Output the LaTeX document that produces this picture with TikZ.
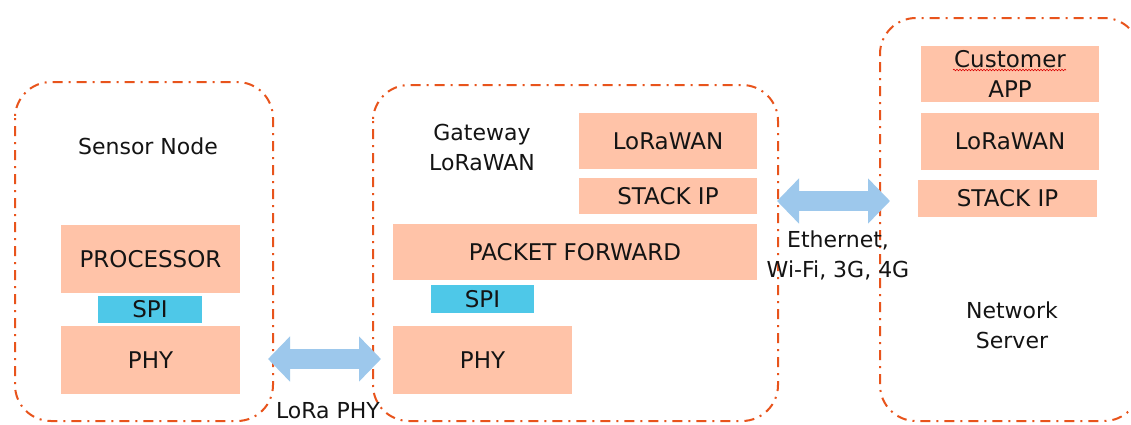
\documentclass[tikz,border=0pt]{standalone}
\usepackage{fontspec}
\setmainfont{DejaVu Sans}
\usetikzlibrary{arrows.meta,decorations.pathmorphing}
\definecolor{boxfill}{HTML}{FFC3A8}
\definecolor{spifill}{HTML}{4EC8E8}
\definecolor{arrowblue}{HTML}{9DC8EC}
\definecolor{frameorange}{HTML}{E8541C}
\definecolor{txt}{HTML}{141414}
\begin{document}
\begin{tikzpicture}[x=1pt,y=-1pt,
  every node/.style={text=txt,font=\fontsize{22}{30}\selectfont,inner sep=0pt,align=center},
  layerbox/.style={fill=boxfill,draw=none,rectangle,font=\fontsize{23}{30}\selectfont},
  spibox/.style={fill=spifill,draw=none,rectangle,font=\fontsize{23}{30}\selectfont},
  container/.style={draw=frameorange,line width=2pt,rounded corners=36pt,
    dash pattern=on 2pt off 6pt on 10pt off 6pt},
  fatarrow/.style={draw=arrowblue,line width=20pt,
    {Triangle[length=22pt,width=44pt]}-{Triangle[length=22pt,width=44pt]}},
  squiggle/.style={draw=red!85!black,line width=0.6pt,
    decorate,decoration={snake,amplitude=0.8pt,segment length=3pt}}
]
\useasboundingbox (0,0) rectangle (1131,424);
\clip (0,0) rectangle (1131,424);
\fill[white] (0,0) rectangle (1131,424);

% containers
\draw[container] (15,82) rectangle (273,421);
\draw[container] (373,85) rectangle (778,421);
\draw[container] (880,18) rectangle (1140,421);

% Sensor node
\node (sensorlbl) at (148,146) {Sensor Node};
\node[layerbox,minimum width=179pt,minimum height=68pt] (proc) at (150.5,259) {PROCESSOR};
\node[spibox,minimum width=104pt,minimum height=27pt] (spia) at (150,309.5) {SPI};
\node[layerbox,minimum width=179pt,minimum height=68pt] (phya) at (150.5,360) {PHY};

% Gateway
\node (gwlbl) at (482,147) {Gateway\\LoRaWAN};
\node[layerbox,minimum width=178pt,minimum height=56pt] (lwa) at (668,141) {LoRaWAN};
\node[layerbox,minimum width=178pt,minimum height=36pt] (ipa) at (668,196) {STACK IP};
\node[layerbox,minimum width=364pt,minimum height=56pt] (pf) at (575,252) {PACKET FORWARD};
\node[spibox,minimum width=103pt,minimum height=28pt] (spib) at (482.5,299) {SPI};
\node[layerbox,minimum width=179pt,minimum height=68pt] (phyb) at (482.5,360) {PHY};

% Network server
\node[layerbox,minimum width=178pt,minimum height=56pt] (app) at (1010,74) {Customer\\APP};
\node[layerbox,minimum width=178pt,minimum height=57pt] (lwb) at (1010,141.5) {LoRaWAN};
\node[layerbox,minimum width=179pt,minimum height=37pt] (ipb) at (1007.5,198.5) {STACK IP};
\node (nslbl) at (1012,325) {Network\\Server};
\coordinate (sqa) at (953,70);
\coordinate (sqb) at (1066,70);
\draw[squiggle] (sqa) -- (sqb);

% connectors
\coordinate (lora-l) at (268,359);
\coordinate (lora-r) at (381,359);
\draw[fatarrow] (lora-l) -- (lora-r);
\node (loralbl) at (328,411) {LoRa PHY};

\coordinate (eth-l) at (777,201);
\coordinate (eth-r) at (890,201);
\draw[fatarrow] (eth-l) -- (eth-r);
\node (ethlbl) at (838,255) {Ethernet,\\Wi-Fi, 3G, 4G};
\end{tikzpicture}
\end{document}
